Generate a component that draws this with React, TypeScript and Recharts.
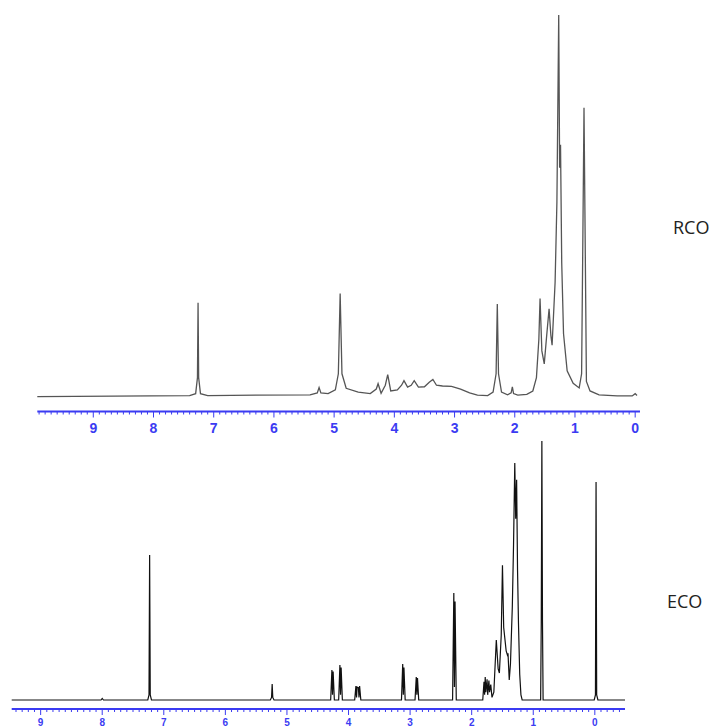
import React from 'react'
import { LineChart, Line, XAxis, YAxis } from 'recharts'

// Two stacked 1H NMR spectra, ppm axis reversed (high field on the right).
// Intensities are relative: tallest peak of each spectrum = 100.

const MAJOR_TICKS = [9, 8, 7, 6, 5, 4, 3, 2, 1, 0]
const AXIS_BLUE = '#3b3bf2'

const RCO_PPM = [
  9.93, 7.4, 7.3, 7.27, 7.26, 7.25, 7.22, 7.1,
  5.4, 5.28, 5.25, 5.22, 5.1, 4.98, 4.93, 4.9, 4.87, 4.8, 4.6,
  4.4, 4.3, 4.27, 4.22, 4.15, 4.11, 4.06, 3.95, 3.88, 3.84, 3.78,
  3.72, 3.67, 3.6, 3.5, 3.42, 3.36, 3.3, 3.2, 3.05, 2.9, 2.75, 2.62,
  2.45, 2.36, 2.31, 2.29, 2.27, 2.22, 2.12, 2.06, 2.04, 2.02, 1.95,
  1.8, 1.7, 1.64, 1.6, 1.58, 1.55, 1.51, 1.47, 1.43, 1.4, 1.38,
  1.33, 1.3, 1.27, 1.255, 1.24, 1.22, 1.19, 1.13, 1.03, 0.93, 0.89, 0.87,
  0.85, 0.83, 0.81, 0.75, 0.6, 0.3, 0.05, 0.0, -0.03,
]
const RCO_INT = [
  0, 0.3, 0.8, 5, 24.6, 5, 0.8, 0.3,
  0.5, 1, 2.4, 1, 0.8, 1.8, 6, 27, 6, 2.2, 1.2,
  0.8, 2, 3.4, 0.9, 3, 5.8, 1.5, 1.8, 3, 4.2, 2.5,
  3, 4.2, 2.5, 2.6, 3.8, 4.5, 3, 2.8, 2.7, 2, 1, 0.4,
  0.3, 1.2, 6, 24.3, 6, 1.2, 0.5, 1, 2.6, 0.8, 0.4,
  0.6, 1.5, 5, 15, 25.7, 12, 8.6, 16, 23, 16, 13.5,
  30, 51, 100, 60, 66, 35, 16.5, 6.8, 3.5, 2.3, 6, 40,
  75.7, 40, 4, 1.5, 0.5, 0.2, 0.2, 0.8, 0.3,
]

const ECO_PPM = [
  9.47, 8.02, 8.0, 7.98, 7.26, 7.24, 7.23, 7.22, 7.2,
  5.27, 5.25, 5.24, 5.23, 5.21,
  4.29, 4.27, 4.26, 4.25, 4.23, 4.16, 4.14, 4.13, 4.12, 4.1,
  3.9, 3.88, 3.87, 3.86, 3.84, 3.83, 3.82, 3.8,
  3.14, 3.12, 3.11, 3.1, 3.08, 2.92, 2.9, 2.89, 2.88, 2.86,
  2.31, 2.29, 2.28, 2.27, 2.25,
  1.82, 1.8, 1.79, 1.78, 1.77, 1.75, 1.74, 1.72, 1.71, 1.69, 1.67,
  1.64, 1.6, 1.57, 1.55, 1.52, 1.5, 1.48, 1.44, 1.42, 1.41, 1.39,
  1.37, 1.34, 1.32, 1.3, 1.285, 1.27, 1.255, 1.24, 1.22, 1.2, 1.18,
  0.88, 0.87, 0.86, 0.85, 0.84, 0.01, -0.01, -0.02, -0.03, -0.05, -0.49,
]
const ECO_INT = [
  0, 0, 0.6, 0, 0, 2, 56, 2, 0,
  0, 1, 6.2, 1, 0,
  0, 11.6, 2, 11, 0, 0, 13.5, 2, 12.5, 0,
  0, 5.4, 1, 5, 4.8, 1, 5.4, 0,
  0, 13.9, 2, 12.5, 0, 0, 8.9, 2, 8.5, 0,
  0, 41.3, 5, 38, 0,
  0, 7, 2, 8.9, 3, 8, 2, 7.5, 3, 6, 1,
  3, 23.2, 12, 10.4, 25, 52, 28, 19, 17.4, 18, 7.7,
  14, 36, 60, 91.5, 70, 85, 50, 29.7, 10, 2, 0,
  0, 30, 100, 30, 0, 0, 2, 84.2, 2, 0, 0,
]

const rco = RCO_PPM.map((ppm, i) => ({ ppm, v: RCO_INT[i] }))
const eco = ECO_PPM.map((ppm, i) => ({ ppm, v: ECO_INT[i] }))

function tickList(lo: number, hi: number) {
  const out: number[] = []
  for (let i = Math.ceil(lo * 10); i <= Math.floor(hi * 10); i++) out.push(i / 10)
  return out
}

function PpmTick(props: any) {
  const { x, y, payload, fontSize, labelDy } = props
  const v = payload.value as number
  const major = MAJOR_TICKS.some((m) => Math.abs(m - v) < 1e-6)
  return (
    <g>
      <line x1={x} x2={x} y1={y} y2={y + (major ? 6 : 3)} stroke={AXIS_BLUE} strokeWidth={1} />
      {major && (
        <text
          x={x}
          y={y + labelDy}
          textAnchor="middle"
          fill={AXIS_BLUE}
          fontSize={fontSize}
          fontWeight="bold"
          fontFamily="'Liberation Sans Narrow', 'Liberation Sans', Arial, sans-serif"
        >
          {Math.round(v)}
        </text>
      )}
    </g>
  )
}

const labelStyle: React.CSSProperties = {
  position: 'absolute',
  fontFamily: "'Open Sans', 'Noto Sans', sans-serif",
  fontSize: 18,
  lineHeight: '20px',
  color: '#222',
}

export default function App() {
  const topDomain: [number, number] = [-0.08, 9.93]
  const botDomain: [number, number] = [-0.49, 9.47]
  return (
    <div style={{ position: 'relative', width: 720, height: 728, marginTop: -8, marginLeft: -8, background: '#fff' }}>
      <div style={{ position: 'absolute', left: 0, top: 0 }}>
        <LineChart width={720} height={440} data={rco} margin={{ top: 14, right: 80, left: 37.3, bottom: 8.5 }}>
          <XAxis
            dataKey="ppm"
            type="number"
            domain={topDomain}
            reversed
            ticks={tickList(topDomain[0], topDomain[1])}
            interval={0}
            height={20}
            tickLine={false}
            tickSize={0}
            tickMargin={0}
            axisLine={{ stroke: AXIS_BLUE, strokeWidth: 2 }}
            tick={(p: any) => <PpmTick {...p} fontSize={14} labelDy={21} />}
          />
          <YAxis hide domain={[-3.88, 100.26]} allowDataOverflow />
          <Line dataKey="v" type="linear" stroke="#555" strokeWidth={1.3} dot={false} isAnimationActive={false} />
        </LineChart>
      </div>
      <div style={{ position: 'absolute', left: 0, top: 430 }}>
        <LineChart width={720} height={298} data={eco} margin={{ top: 10, right: 95, left: 11.7, bottom: 0 }}>
          <XAxis
            dataKey="ppm"
            type="number"
            domain={botDomain}
            reversed
            ticks={tickList(botDomain[0], botDomain[1])}
            interval={0}
            height={19}
            tickLine={false}
            tickSize={0}
            tickMargin={0}
            axisLine={{ stroke: AXIS_BLUE, strokeWidth: 2 }}
            tick={(p: any) => <PpmTick {...p} fontSize={10} labelDy={17} />}
          />
          <YAxis hide domain={[-3.47, 100.39]} allowDataOverflow />
          <Line dataKey="v" type="linear" stroke="#111" strokeWidth={1.2} dot={false} isAnimationActive={false} />
        </LineChart>
      </div>
      <div style={{ ...labelStyle, left: 673, top: 217 }}>RCO</div>
      <div style={{ ...labelStyle, left: 667, top: 591 }}>ECO</div>
    </div>
  )
}
